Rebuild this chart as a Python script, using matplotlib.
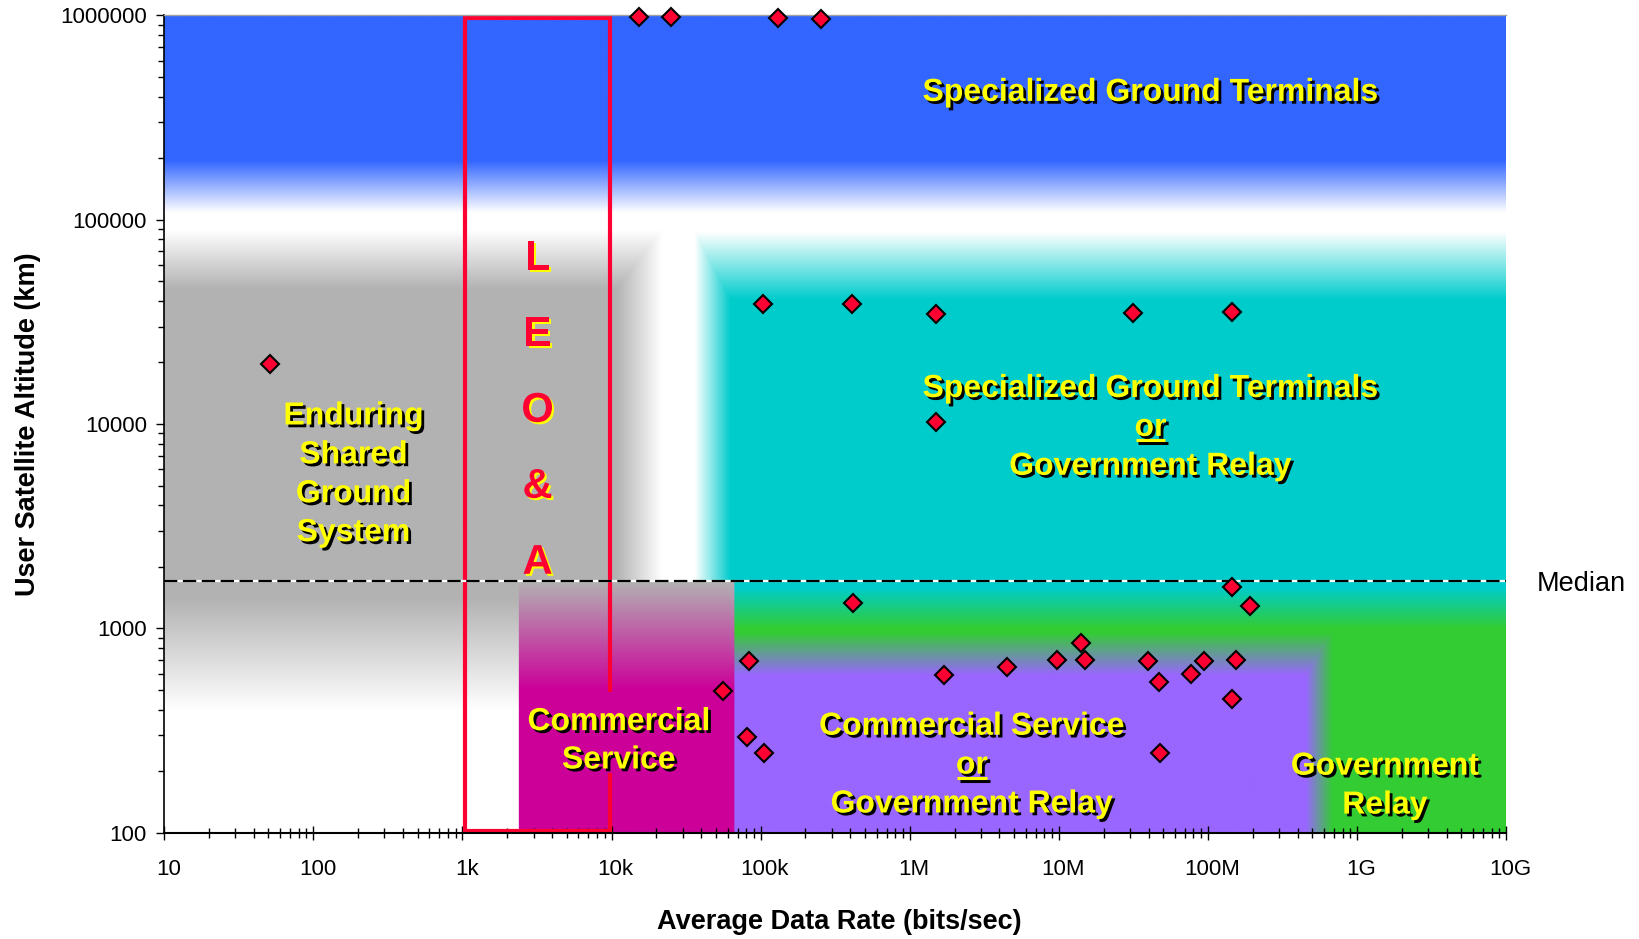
import numpy as np
import matplotlib
matplotlib.use('Agg')
import matplotlib.pyplot as plt
import matplotlib.patheffects as pe
from matplotlib import colors as mcolors
from matplotlib.patches import Rectangle
from matplotlib.lines import Line2D
from matplotlib.transforms import ScaledTranslation
from matplotlib import ticker

plt.rcParams['font.family'] = ['Liberation Sans', 'DejaVu Sans']

# user missions: average data rate (bits/sec) vs user satellite altitude (km)
data_rate = [15.3e3, 25e3, 131e3, 254e3, 51, 104e3, 408e3, 1.5e6, 31.6e6, 145e6,
             1.5e6, 415e3, 145.6e6, 191e6, 14.2e6, 84e3, 56.1e3, 80.6e3, 105.7e3,
             1.7e6, 4.5e6, 9.8e6, 15e6, 39.8e6, 46.9e6, 76.9e6, 94.5e6, 154e6,
             145.6e6, 47.6e6]
altitude = [9.85e5, 9.78e5, 9.67e5, 9.56e5, 19.6e3, 38.7e3, 38.6e3, 34.7e3, 35e3, 35.4e3,
            10.2e3, 1324, 1589, 1282, 845, 690, 491, 294, 246,
            593, 645, 700, 700, 690, 545, 597, 690, 701,
            451, 246]

x_ticks = [1e1, 1e2, 1e3, 1e4, 1e5, 1e6, 1e7, 1e8, 1e9, 1e10]
x_labels = ['10', '100', '1k', '10k', '100k', '1M', '10M', '100M', '1G', '10G']
y_ticks = [1e2, 1e3, 1e4, 1e5, 1e6]
y_labels = ['100', '1000', '10000', '100000', '1000000']

MEDIAN_ALT = 1700
LEO_RATE = (1.04e3, 9.8e3)
LEO_ALT = (102, 9.7e5)

BLUE = '#3366FF'
GRAY = '#B2B2B2'
CYAN = '#00CCCC'
GREEN = '#33CC33'
PURPLE = '#9966FF'
MAGENTA = '#CC0099'
RED = '#FF0033'
YELLOW = '#FFFF00'


def rgb(c):
    return np.array(mcolors.to_rgb(c))


def ramp(t, a, b):
    return np.clip((t - a) / (b - a), 0, 1)


def mix(c0, c1, w):
    return c0 * (1 - w[..., None]) + c1 * w[..., None]


# background shading, built in log10 space (u = log rate, v = log altitude)
nx, ny = 1800, 1000
U, V = np.meshgrid(np.linspace(1, 10, nx), np.linspace(6, 2, ny))
med = np.log10(MEDIAN_ALT)
W, B, G, C, Gr, P, M = [rgb(c) for c in ['white', BLUE, GRAY, CYAN, GREEN, PURPLE, MAGENTA]]

top = np.ones(U.shape + (3,))
top = mix(top, G, np.minimum(ramp(V, 4.95, 4.66), ramp(U, 4.34, 4.03)))
top = mix(top, C, np.minimum(ramp(V, 4.94, 4.61), ramp(U, 4.56, 4.80)))
top = mix(top, B, ramp(V, 5.035, 5.29))

left = mix(W, G, ramp(V, 2.6, 3.15))
mag = mix(G, M, ramp(V, 3.23, 2.70))
right = mix(C, Gr, ramp(V, 3.2, 3.0))
right = mix(right, P, np.minimum(ramp(V, 2.98, 2.77), ramp(U, 8.84, 8.66)))
bottom = np.where(U[..., None] < 3.38, left, np.where(U[..., None] < 4.823, mag, right))
img = np.where(V[..., None] >= med, top, bottom)

fig = plt.figure(figsize=(16.39, 9.39), dpi=100)
rect = [0.1002, 0.1132, 0.8187, 0.8705]
bg = fig.add_axes(rect, zorder=0)
bg.imshow(img, extent=[1, 10, 2, 6], aspect='auto', interpolation='bilinear')
bg.set_xlim(1, 10)
bg.set_ylim(2, 6)
bg.axis('off')

ax = fig.add_axes(rect, zorder=1)
ax.set_facecolor('none')
ax.set_xscale('log')
ax.set_yscale('log')
ax.set_xlim(10, 1e10)
ax.set_ylim(100, 1e6)

# LEO & A box
ax.add_patch(Rectangle((LEO_RATE[0], LEO_ALT[0]), LEO_RATE[1] - LEO_RATE[0], LEO_ALT[1] - LEO_ALT[0],
                       fill=False, ec=RED, lw=3, zorder=2))
# text box of "Commercial Service" hides part of the box edge
ax.add_patch(Rectangle((8.3e3, 197), 11.6e3 - 8.3e3, 489 - 197, fc=MAGENTA, ec='none', zorder=2.5))

# median line
ax.axhline(MEDIAN_ALT, color='white', lw=1.6, zorder=3)
ax.axhline(MEDIAN_ALT, color='black', lw=1.6, dashes=(6, 2.5), zorder=3.1)
ax.text(1.0229, MEDIAN_ALT, 'Median', transform=ax.get_yaxis_transform(),
        ha='left', va='center_baseline', fontsize=19.5)

ax.plot(data_rate, altitude, 'D', ms=9.5, mfc=RED, mec='black', mew=1.5, ls='none',
        zorder=6, clip_on=False)


def label(x, y, lines, size=23, step=28, color=YELLOW, shadow='black', off=2):
    n = len(lines)
    out = []
    for i, s in enumerate(lines):
        dy = ((n - 1) / 2 - i) * step
        t = ax.annotate(s, (x, y), xytext=(0, dy), textcoords='offset points',
                        ha='center', va='center', fontsize=size, fontweight='bold',
                        color=color, zorder=5,
                        path_effects=[pe.withSimplePatchShadow(offset=(off, -off),
                                                               shadow_rgbFace=shadow, alpha=1)])
        out.append(t)
    return out


label(4.12e7, 4.17e5, ['Specialized Ground Terminals'])
blk1 = label(4.12e7, 9.57e3, ['Specialized Ground Terminals', 'or', 'Government Relay'])
label(186, 5.64e3, ['Enduring', 'Shared', 'Ground', 'System'])
label(11.2e3, 280, ['Commercial', 'Service'], step=27.6)
blk2 = label(2.61e6, 213, ['Commercial Service', 'or', 'Government Relay'])
label(1.54e9, 169, ['Government', 'Relay'])
label(3.19e3, 1.16e4, ['L', 'E', 'O', '&', 'A'], size=30, step=54.7, color=RED,
      shadow=YELLOW, off=1.5)

# axes styling
ax.spines['right'].set_visible(False)
ax.spines['top'].set_color('#a0a0a0')
ax.spines['top'].set_linewidth(1)
ax.spines['left'].set_linewidth(1.2)
ax.spines['bottom'].set_linewidth(1.5)

ax.set_xticks(x_ticks, x_labels)
ax.set_yticks(y_ticks, y_labels)
ax.xaxis.set_minor_locator(ticker.LogLocator(base=10, subs=np.arange(2, 10), numticks=30))
ax.yaxis.set_minor_locator(ticker.LogLocator(base=10, subs=np.arange(2, 10), numticks=30))
ax.xaxis.set_minor_formatter(ticker.NullFormatter())
ax.yaxis.set_minor_formatter(ticker.NullFormatter())
ax.tick_params(axis='x', which='major', direction='inout', length=10, width=1, pad=14, labelsize=16)
ax.tick_params(axis='x', which='minor', direction='inout', length=7, width=1)
ax.tick_params(axis='y', which='major', direction='out', length=5.5, width=1, pad=7, labelsize=16)
ax.tick_params(axis='y', which='minor', direction='out', length=4, width=1)

shift = ScaledTranslation(3 / 72, 0, fig.dpi_scale_trans)
for lab in ax.get_xticklabels():
    lab.set_transform(lab.get_transform() + shift)

fig.text(0.512, 0.018, 'Average Data Rate (bits/sec)', ha='center', va='center',
         fontsize=19.5, fontweight='bold')
fig.text(0.017, 0.548, 'User Satellite Altitude (km)', ha='center', va='center',
         rotation=90, fontsize=19.5, fontweight='bold')

# underline the "or" words
fig.canvas.draw()
renderer = fig.canvas.get_renderer()
inv = fig.transFigure.inverted()
for t in [blk1[1], blk2[1]]:
    bb = t.get_window_extent(renderer)
    yy = bb.y0 + 2.7
    (fx0, fy), (fx1, _) = inv.transform([(bb.x0 + 1, yy), (bb.x1 - 1, yy)])
    fig.add_artist(Line2D([fx0, fx1], [fy, fy], color=YELLOW, lw=2.2, solid_capstyle='butt',
                          zorder=5,
                          path_effects=[pe.SimpleLineShadow(offset=(2, -2), shadow_color='black', alpha=1),
                                        pe.Normal()]))

fig.savefig('out.png', dpi=100)
